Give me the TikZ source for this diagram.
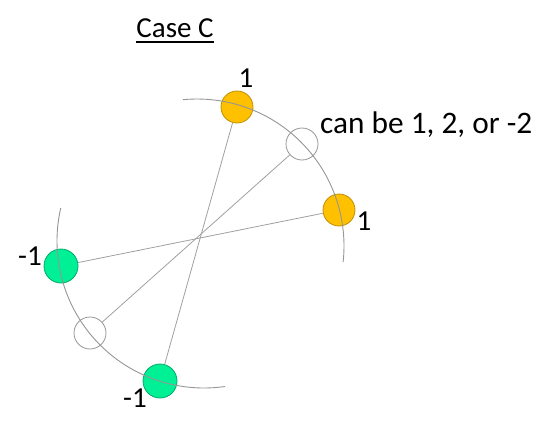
\documentclass[tikz,border=0pt]{standalone}
\usepackage{fontspec}
\setmainfont{Carlito}
\definecolor{ofill}{RGB}{255,192,0}
\definecolor{odraw}{RGB}{190,144,0}
\definecolor{gfill}{RGB}{0,240,150}
\definecolor{gdraw}{RGB}{0,170,105}
\definecolor{hdraw}{RGB}{150,150,150}
\definecolor{lgray}{RGB}{160,160,160}
\tikzset{
  dot/.style={circle, minimum size=32pt, inner sep=0pt, line width=0.8pt},
  orangedot/.style={dot, fill=ofill, draw=odraw},
  greendot/.style={dot, fill=gfill, draw=gdraw, minimum size=34pt},
  hollowdot/.style={dot, fill=white, draw=hdraw},
  link/.style={draw=lgray, line width=0.8pt},
  rim/.style={draw=hdraw, line width=0.9pt},
  lbl/.style={inner sep=0pt, anchor=base, font=\fontsize{29}{34}\selectfont}
}
\begin{document}
\begin{tikzpicture}[x=1pt,y=-1pt]
\useasboundingbox (0,0) rectangle (540,434);
% dots
\node[orangedot] (ot) at (237,107) {};
\node[hollowdot] (h1) at (302,144) {};
\node[orangedot] (or) at (339,210) {};
\node[greendot] (gl) at (61,266) {};
\node[hollowdot] (h2) at (90,333) {};
\node[greendot] (gb) at (160,381) {};
% connectors
\path[link] (ot) -- (gb);
\path[link] (or) -- (gl);
\path[link] (h1) -- (h2);
% arcs
\coordinate (cu) at (197,246);
\coordinate (cl) at (204,241);
\draw[rim] (cu) ++(95.5:147 and -147) arc[start angle=95.5, end angle=-6.3, x radius=147, y radius=-147];
\draw[rim] (cl) ++(167:147 and -147) arc[start angle=167, end angle=278.2, x radius=147, y radius=-147];
% labels
\node[lbl] (t1) at (246,87) {1};
\node[lbl] (t2) at (364,230) {1};
\node[lbl] (t3) at (30,265) {-1};
\node[lbl] (t4) at (135,407) {-1};
\node[lbl, anchor=base west, font=\fontsize{31.3}{36}\selectfont] (t5) at (320,133) {can be 1, 2, or -2};
\node[lbl] (title) at (175,37) {Case C};
\draw[line width=1.4pt] ([yshift=-5pt]title.base west) -- ([yshift=-5pt]title.base east);
\end{tikzpicture}
\end{document}
